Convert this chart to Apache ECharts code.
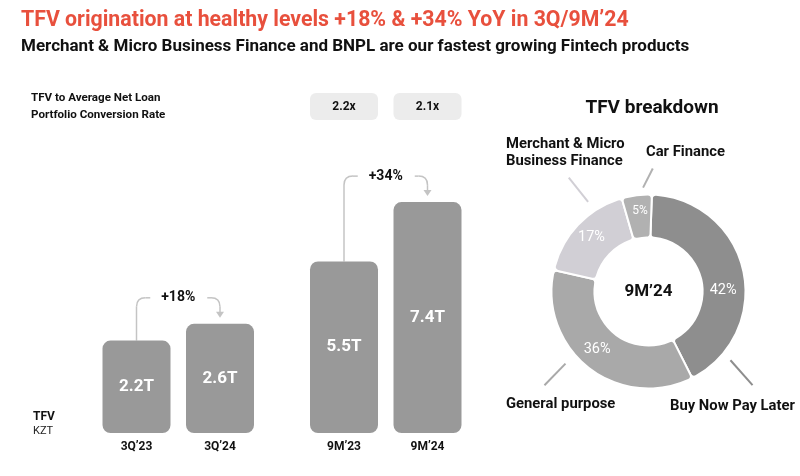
<!DOCTYPE html>
<html>
<head>
<meta charset="utf-8">
<script src="https://cdn.jsdelivr.net/npm/echarts@6/dist/echarts.min.js"></script>
<style>
html,body{margin:0;padding:0;background:#fff;}
#main{width:800px;height:476px;}
</style>
</head>
<body>
<div id="main"></div>
<script>
// ---- data ----
const categoriesQ = ["3Q’23", "3Q’24"];
const valuesQ = [2.2, 2.6];
const categoriesM = ["9M’23", "9M’24"];
const valuesM = [5.5, 7.4];
const conversionRates = ["2.2x", "2.1x"];
const growthLabels = ["+18%", "+34%"];
const breakdownNames = ["Buy Now Pay Later", "General purpose", "Merchant & Micro\nBusiness Finance", "Car Finance"];
const breakdownValues = [42, 36, 17, 5];
const breakdownCenterLabel = "9M’24";

// ---- styles ----
const FONT = "Roboto";
const barColor = "#999999";
const sliceColors = ["#8e8e8e", "#a9a9a9", "#d1cfd5", "#b1b1b1"];
const pieCenter = [648.5, 291.5];
const pieRadius = [54, 97];

const chart = echarts.init(document.getElementById('main'), null, {renderer: 'canvas'});

const axisCommon = {
  axisLine: {show: false}, axisTick: {show: false}, splitLine: {show: false}
};

const option = {
  backgroundColor: '#ffffff',
  animation: false,
  textStyle: {fontFamily: FONT},
  title: [
    {text: "TFV origination at healthy levels +18% & +34% YoY in 3Q/9M’24", left: 16, top: 5,
     textStyle: {fontFamily: FONT, fontSize: 21.3, fontWeight: 'bold', color: '#E8503D'}},
    {text: "Merchant & Micro Business Finance and BNPL are our fastest growing Fintech products", left: 16, top: 33,
     textStyle: {fontFamily: FONT, fontSize: 17, fontWeight: 'bold', color: '#111'}},
    {text: "TFV breakdown", left: 647, top: 94, textAlign: 'center',
     textStyle: {fontFamily: FONT, fontSize: 19, fontWeight: 'bold', color: '#111'}},
    {text: "TFV to Average Net Loan\nPortfolio Conversion Rate", left: 26, top: 85,
     textStyle: {fontFamily: FONT, fontSize: 11.6, fontWeight: 'bold', color: '#111', lineHeight: 17}},
    {text: "TFV", left: 28, top: 406, textStyle: {fontFamily: FONT, fontSize: 12, fontWeight: 'bold', color: '#111'}},
    {text: "KZT", left: 28, top: 421, textStyle: {fontFamily: FONT, fontSize: 11, fontWeight: 'normal', color: '#222'}}
  ],
  grid: [
    {left: 94.75, width: 167, top: 265, height: 168},
    {left: 302.25, width: 167, top: 183.4, height: 249.6}
  ],
  xAxis: [
    Object.assign({type: 'category', gridIndex: 0, data: categoriesQ,
      axisLabel: {margin: 8, fontFamily: FONT, fontSize: 12, fontWeight: 'bold', color: '#111'}}, axisCommon),
    Object.assign({type: 'category', gridIndex: 1, data: categoriesM,
      axisLabel: {margin: 8, fontFamily: FONT, fontSize: 12, fontWeight: 'bold', color: '#111'}}, axisCommon)
  ],
  yAxis: [
    Object.assign({type: 'value', gridIndex: 0, min: 0, max: 4, axisLabel: {show: false}}, axisCommon),
    Object.assign({type: 'value', gridIndex: 1, min: 0, max: 8, axisLabel: {show: false}}, axisCommon)
  ],
  series: [
    {type: 'bar', xAxisIndex: 0, yAxisIndex: 0, data: valuesQ, barWidth: 68,
     itemStyle: {color: barColor, borderRadius: 8},
     label: {show: true, position: 'inside', formatter: p => p.value + 'T',
             color: '#fff', fontFamily: FONT, fontSize: 17, fontWeight: 'bold'}},
    {type: 'bar', xAxisIndex: 1, yAxisIndex: 1, data: valuesM, barWidth: 68,
     itemStyle: {color: barColor, borderRadius: 8},
     label: {show: true, position: 'inside', formatter: p => p.value + 'T',
             color: '#fff', fontFamily: FONT, fontSize: 17, fontWeight: 'bold'}},
    {type: 'pie', center: pieCenter, radius: pieRadius, startAngle: 88, clockwise: true,
     avoidLabelOverlap: false,
     itemStyle: {borderColor: '#fff', borderWidth: 2, borderRadius: 4},
     label: {show: true, position: 'inside', formatter: p => p.value + '%',
             color: '#fff', fontFamily: FONT, fontSize: 14.5},
     labelLine: {show: false},
     data: breakdownNames.map((n, i) => ({
       name: n, value: breakdownValues[i],
       itemStyle: {color: sliceColors[i]},
       label: i === 3 ? {fontSize: 12, offset: [1, -3]} : (i === 0 ? {offset: [-2, 16]} : (i === 1 ? {offset: [-3, -4]} : {}))
     }))}
  ]
};
chart.setOption(option);

// ---- annotations computed from the axes ----
const graphics = [];
function px(idx, cat, val) {
  return chart.convertToPixel({xAxisIndex: idx, yAxisIndex: idx}, [cat, val]);
}
const lineColor = '#c4c4c4';
const stroke = {stroke: lineColor, lineWidth: 1.5, fill: null};
[[0, categoriesQ, valuesQ], [1, categoriesM, valuesM]].forEach(([idx, cats, vals], k) => {
  const a = px(idx, cats[0], vals[0]);
  const b = px(idx, cats[1], vals[1]);
  const by = Math.min(a[1], b[1]) - 26;
  const mid = (a[0] + b[0]) / 2;
  const r = 9;
  graphics.push({type: 'line', shape: {x1: a[0], y1: a[1], x2: a[0], y2: by + r}, style: stroke});
  graphics.push({type: 'bezierCurve', shape: {x1: a[0], y1: by + r, cpx1: a[0], cpy1: by, x2: a[0] + r, y2: by}, style: stroke});
  graphics.push({type: 'line', shape: {x1: a[0] + r, y1: by, x2: mid - 28, y2: by}, style: stroke});
  graphics.push({type: 'line', shape: {x1: mid + 29, y1: by, x2: b[0] - r, y2: by}, style: stroke});
  graphics.push({type: 'bezierCurve', shape: {x1: b[0] - r, y1: by, cpx1: b[0], cpy1: by, x2: b[0], y2: by + r}, style: stroke});
  graphics.push({type: 'line', shape: {x1: b[0], y1: by + r, x2: b[0], y2: b[1] - 11}, style: stroke});
  graphics.push({type: 'polygon', shape: {points: [[b[0] - 4, b[1] - 12], [b[0] + 4, b[1] - 12], [b[0], b[1] - 6]]},
    style: {fill: lineColor}});
  graphics.push({type: 'text', x: mid, y: by, style: {text: growthLabels[k], fontFamily: FONT, fontSize: 14,
    fontWeight: 'bold', fill: '#111', align: 'center', verticalAlign: 'middle'}});
});

// conversion rate boxes above 9M bars
categoriesM.forEach((c, i) => {
  const x = px(1, c, 0)[0];
  graphics.push({type: 'rect', shape: {x: x - 34, y: 93, width: 68, height: 27, r: 6}, style: {fill: '#ececec'}});
  graphics.push({type: 'text', x: x, y: 106.5, style: {text: conversionRates[i], fontFamily: FONT, fontSize: 12,
    fontWeight: 'bold', fill: '#111', align: 'center', verticalAlign: 'middle'}});
});

// donut centre label
graphics.push({type: 'text', x: pieCenter[0], y: pieCenter[1], style: {text: breakdownCenterLabel, fontFamily: FONT,
  fontSize: 17, fontWeight: 'bold', fill: '#111', align: 'center', verticalAlign: 'middle'}});

// outside labels with leader lines (angle clockwise from top, radii from centre)
const leaders = [
  {i: 0, a0: 130, a1: 132, r0: 107, r1: 140, tx: 670, ty: 406},
  {i: 1, a0: 229, a1: 228, r0: 110, r1: 140, tx: 506, ty: 404},
  {i: 2, a0: 326, a1: 325, r0: 108, r1: 139, tx: 506, ty: 153},
  {i: 3, a0: -3, a1: 2, r0: 104, r1: 123, tx: 646, ty: 152}
];
const toXY = (ang, r) => {
  const rad = ang * Math.PI / 180;
  return [pieCenter[0] + r * Math.sin(rad), pieCenter[1] - r * Math.cos(rad)];
};
leaders.forEach(L => {
  const p0 = toXY(L.a0, L.r0), p1 = toXY(L.a1, L.r1);
  graphics.push({type: 'line', shape: {x1: p0[0], y1: p0[1], x2: p1[0], y2: p1[1]},
    style: {stroke: sliceColors[L.i], lineWidth: 2}});
  graphics.push({type: 'text', x: L.tx, y: L.ty, style: {text: breakdownNames[L.i], fontFamily: FONT, fontSize: 14.8,
    fontWeight: 'bold', fill: '#111', align: 'left', verticalAlign: 'middle', lineHeight: 17}});
});

chart.setOption({graphic: graphics});
</script>
</body>
</html>
